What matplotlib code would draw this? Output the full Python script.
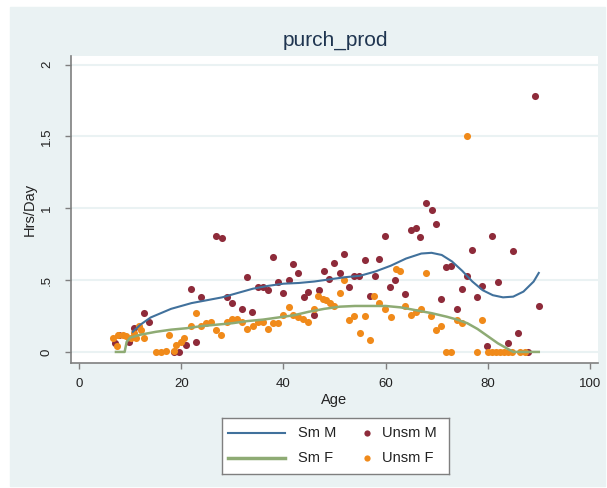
import matplotlib
matplotlib.use("Agg")
import matplotlib.pyplot as plt
from matplotlib.patches import Rectangle

plt.rcParams['font.family'] = ['Liberation Sans', 'DejaVu Sans']

# unsmoothed points, males
m_age = [7.0, 7.8, 9.8, 10.8, 12.7, 13.7, 18.6, 19.5, 20.9, 21.9, 22.8, 23.9, 26.8, 27.9,
         28.9, 29.9, 31.8, 32.9, 33.9, 35.0, 36.0, 36.9, 37.9, 39.0, 39.9, 41.0, 41.8,
         42.9, 44.0, 44.9, 45.9, 46.9, 48.0, 48.9, 49.9, 51.0, 51.8, 52.9, 53.8, 54.8,
         55.9, 56.9, 58.0, 58.8, 59.9, 60.9, 61.9, 63.9, 65.0, 66.0, 66.8, 68.0, 69.0,
         69.9, 70.9, 71.9, 72.9, 73.9, 75.0, 75.9, 76.9, 78.0, 78.9, 79.9, 80.9, 82.0,
         84.0, 85.0, 86.0, 87.9, 89.2, 90.0]
m_val = [0.06, 0.12, 0.07, 0.17, 0.27, 0.21, 0.0, 0.0, 0.05, 0.44, 0.07, 0.38, 0.81, 0.79,
         0.38, 0.34, 0.30, 0.52, 0.28, 0.45, 0.45, 0.43, 0.66, 0.49, 0.41, 0.50, 0.61,
         0.55, 0.38, 0.42, 0.26, 0.43, 0.56, 0.51, 0.62, 0.55, 0.68, 0.45, 0.53, 0.53,
         0.64, 0.39, 0.53, 0.65, 0.81, 0.45, 0.50, 0.40, 0.85, 0.86, 0.80, 1.04, 0.99,
         0.89, 0.37, 0.59, 0.60, 0.30, 0.44, 0.53, 0.71, 0.38, 0.46, 0.04, 0.81, 0.49,
         0.06, 0.70, 0.13, 0.0, 1.78, 0.32]

# unsmoothed points, females
f_age = [6.7, 7.5, 7.6, 8.5, 9.1, 10.1, 10.8, 11.1, 11.8, 12.1, 12.7, 15.0, 16.0, 17.0,
         17.6, 18.6, 19.0, 20.0, 20.6, 21.9, 22.9, 23.9, 24.9, 25.8, 26.8, 27.8, 29.0,
         30.0, 31.0, 31.8, 32.9, 34.0, 35.0, 36.0, 36.9, 37.9, 38.9, 39.9, 41.0, 41.8,
         42.8, 43.8, 44.8, 45.9, 46.7, 47.7, 48.4, 49.2, 49.9, 51.0, 51.8, 52.9, 53.8,
         54.9, 55.9, 56.9, 57.8, 58.8, 59.8, 61.0, 62.1, 62.9, 63.9, 64.9, 65.9, 66.9,
         68.0, 68.9, 69.9, 70.8, 71.9, 72.9, 73.9, 75.0, 75.9, 78.0, 78.9, 80.0, 80.8,
         81.6, 82.4, 83.2, 84.0, 84.8, 86.3, 87.3]
f_val = [0.10, 0.04, 0.12, 0.12, 0.11, 0.10, 0.13, 0.10, 0.18, 0.15, 0.10, 0.0, 0.0, 0.01,
         0.12, 0.01, 0.05, 0.07, 0.10, 0.18, 0.27, 0.18, 0.20, 0.21, 0.15, 0.12, 0.21,
         0.23, 0.23, 0.21, 0.16, 0.18, 0.21, 0.21, 0.16, 0.20, 0.20, 0.26, 0.31, 0.26,
         0.24, 0.23, 0.21, 0.30, 0.39, 0.37, 0.36, 0.34, 0.32, 0.41, 0.50, 0.22, 0.25,
         0.13, 0.25, 0.08, 0.39, 0.34, 0.30, 0.24, 0.58, 0.56, 0.32, 0.26, 0.28, 0.30,
         0.55, 0.25, 0.15, 0.18, 0.0, 0.0, 0.22, 0.20, 1.50, 0.0, 0.22, 0.0, 0.0,
         0.0, 0.0, 0.0, 0.0, 0.0, 0.0, 0.0]

# smoothed curves
sm_m_age = [10.5, 12, 14, 16, 18, 20, 22, 25, 28, 31, 34, 37, 40, 43, 46, 49, 52, 55, 58,
            61, 64, 67, 69, 71, 73, 75, 77, 79, 81, 83, 85, 87, 89, 90]
sm_m_val = [0.14, 0.19, 0.24, 0.27, 0.30, 0.32, 0.34, 0.36, 0.38, 0.41, 0.44, 0.46, 0.475,
            0.48, 0.49, 0.505, 0.52, 0.53, 0.56, 0.60, 0.65, 0.685, 0.69, 0.675, 0.63,
            0.565, 0.49, 0.43, 0.395, 0.38, 0.385, 0.42, 0.49, 0.55]
sm_f_age = [7.2, 8.9, 9.3, 10, 12, 15, 18, 21, 24, 27, 30, 33, 36, 39, 42, 45, 48, 51, 54,
            57, 60, 63, 66, 69, 72, 74, 76, 78, 80, 82, 84, 85, 90]
sm_f_val = [0.0, 0.0, 0.07, 0.10, 0.12, 0.14, 0.155, 0.165, 0.18, 0.19, 0.20, 0.215, 0.225,
            0.24, 0.255, 0.28, 0.30, 0.315, 0.32, 0.32, 0.32, 0.31, 0.29, 0.27, 0.245,
            0.225, 0.20, 0.16, 0.11, 0.06, 0.02, 0.0, 0.0]

x_ticks = [0, 20, 40, 60, 80, 100]
y_ticks = [0, 0.5, 1, 1.5, 2]
y_tick_labels = ['0', '.5', '1', '1.5', '2']

bg = '#EAF2F3'
blue = '#41719C'
green = '#8EAB74'
maroon = '#8E2B3A'
orange = '#F08A1A'
grey = '#7F7F7F'
txt = '#222222'

W, H = 607, 488
fig = plt.figure(figsize=(W / 100, H / 100), dpi=100, facecolor='white')
fig.patches.append(Rectangle((10 / W, 1 - 486 / H), 595 / W, 479 / H,
                             transform=fig.transFigure, color=bg, zorder=-1))

ax = fig.add_axes([71 / W, 1 - 363 / H, 527 / W, 307 / H])
ax.set_facecolor('white')

for yt in y_ticks:
    ax.axhline(yt, color=bg, lw=1.5, zorder=0)

ax.plot(sm_m_age, sm_m_val, color=blue, lw=1.5, zorder=3)
ax.plot(sm_f_age, sm_f_val, color=green, lw=1.8, zorder=3)
ax.scatter(m_age, m_val, s=26, color=maroon, lw=0, zorder=2)
ax.scatter(f_age, f_val, s=26, color=orange, lw=0, zorder=2)

ax.set_xlim(-1.6, 101.6)
ax.set_ylim(-0.077, 2.06)
ax.set_xticks(x_ticks)
ax.set_yticks(y_ticks)
ax.set_yticklabels(y_tick_labels, rotation=90, va='center')

for s in ['top', 'right']:
    ax.spines[s].set_visible(False)
for s in ['left', 'bottom']:
    ax.spines[s].set_color(grey)
    ax.spines[s].set_linewidth(1.2)
ax.tick_params(colors=grey, length=4, width=1, labelcolor=txt, labelsize=9.5)
ax.tick_params(axis='x', pad=7)
ax.tick_params(axis='y', pad=9)

ax.set_xlabel('Age', fontsize=10.5, color=txt, labelpad=2)
ax.set_ylabel('Hrs/Day', fontsize=10.5, color=txt)
ax.yaxis.set_label_coords((37 - 71) / 527, 0.5)

fig.text(335 / W, 1 - 40 / H, 'purch_prod', ha='center', va='center',
         fontsize=15, color='#1F3550')

# legend box, drawn in its own pixel-unit axes
lg = fig.add_axes([222 / W, 1 - 474 / H, 227 / W, 56 / H])
lg.set_xlim(0, 227)
lg.set_ylim(0, 56)
lg.set_xticks([])
lg.set_yticks([])
lg.set_facecolor('white')
for s in lg.spines.values():
    s.set_color(grey)
    s.set_linewidth(1.0)
lg.plot([6, 63], [41, 41], color=blue, lw=1.5)
lg.plot([6, 63], [16, 16], color=green, lw=2.5)
lg.plot([145], [41], 'o', color=maroon, markersize=4.5, markeredgewidth=0)
lg.plot([145], [16], 'o', color=orange, markersize=4.5, markeredgewidth=0)
for x, y, label in [(76, 41, 'Sm M'), (76, 16, 'Sm F'), (160, 41, 'Unsm M'), (160, 16, 'Unsm F')]:
    lg.text(x, y, label, fontsize=10.5, color=txt, va='center', ha='left')

fig.savefig('out.png', dpi=100, facecolor=fig.get_facecolor())
